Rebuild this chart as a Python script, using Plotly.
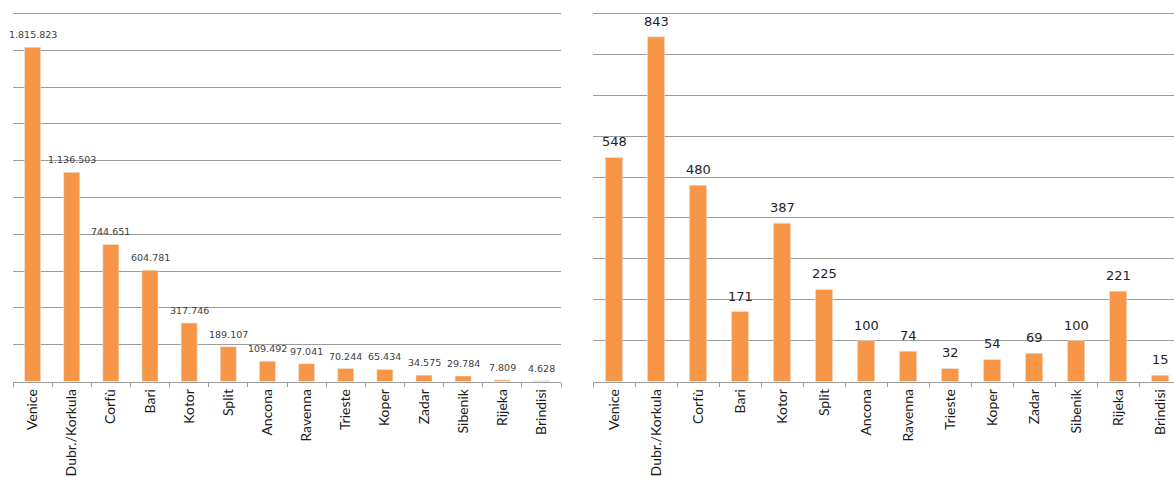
import plotly.graph_objects as go
from plotly.subplots import make_subplots

ports = ["Venice", "Dubr./Korkula", "Corfù", "Bari", "Kotor", "Split", "Ancona",
         "Ravenna", "Trieste", "Koper", "Zadar", "Sibenik", "Rijeka", "Brindisi"]

# left: passengers, right: calls
passengers = [1815823, 1136503, 744651, 604781, 317746, 189107, 109492,
              97041, 70244, 65434, 34575, 29784, 7809, 4628]
calls = [548, 843, 480, 171, 387, 225, 100, 74, 32, 54, 69, 100, 221, 15]

orange = "#F79646"
grid = "#9c9c9c"

# thousands with dots, as in the source
pass_txt = [f"{v:,}".replace(",", ".") for v in passengers]

fig = make_subplots(rows=1, cols=2, horizontal_spacing=0.02)

fig.add_trace(go.Bar(x=ports, y=passengers, marker_color=orange), row=1, col=1)
fig.add_trace(go.Bar(x=ports, y=calls, marker_color=orange), row=1, col=2)

# value labels sit a bit higher than plotly's outside text would
for p, v, t in zip(ports, passengers, pass_txt):
    fig.add_annotation(x=p, y=v, text=t, showarrow=False, yanchor="bottom", yshift=5,
                       xref="x", yref="y",
                       font=dict(family="DejaVu Sans", size=9.5, color="#404040"))
for p, v in zip(ports, calls):
    fig.add_annotation(x=p, y=v, text=str(v), showarrow=False, yanchor="bottom", yshift=6,
                       xref="x2", yref="y2",
                       font=dict(family="DejaVu Sans", size=13, color="#222222"))

fig.update_layout(
    width=1174, height=477,
    margin=dict(l=0, r=0, t=0, b=0),
    paper_bgcolor="white", plot_bgcolor="white",
    showlegend=False, bargap=0.59,
    font=dict(family="Lato", color="#222222"),
)

fig.update_xaxes(tickangle=-90, tickfont=dict(size=14, family="Lato", color="#1a1a1a"),
                 automargin=False, ticklabelstandoff=1,
                 ticks="outside", tickson="boundaries", ticklen=4, tickcolor=grid,
                 showline=True, linecolor=grid, linewidth=1, showgrid=False)
fig.update_xaxes(domain=[13 / 1174, 561 / 1174], range=[-0.5, 13.5], row=1, col=1)
fig.update_xaxes(domain=[593 / 1174, 1.0], range=[-0.5, 13.33], row=1, col=2)

# ranges a touch past the top gridline so it doesn't get clipped
fig.update_yaxes(showticklabels=False, showgrid=True, gridcolor=grid, gridwidth=1,
                 zeroline=False, automargin=False, domain=[0.2002, 0.9795])
fig.update_yaxes(range=[0, 2020000], dtick=200000, row=1, col=1)
fig.update_yaxes(range=[0, 909], dtick=100, row=1, col=2)

fig.write_html("out.html", config={"displayModeBar": False},
               post_script="document.body.style.margin='0';")
